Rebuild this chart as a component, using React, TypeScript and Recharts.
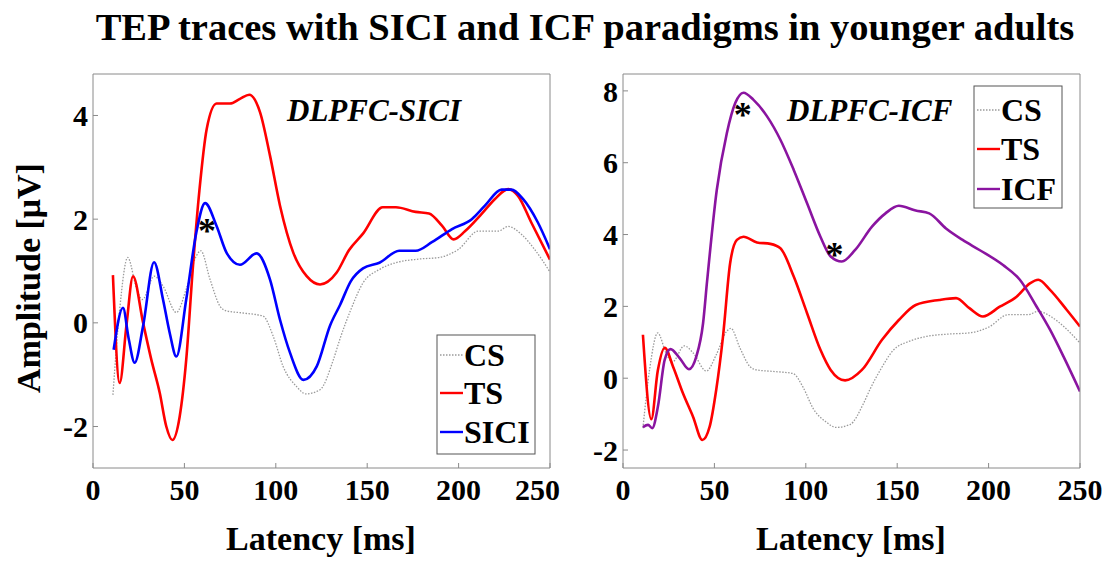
import { LineChart, Line, XAxis, YAxis, ReferenceDot } from 'recharts'

// CS trace (same in both panels)
const csLatency = [10.9, 14.6, 19, 23.7, 27, 33.5, 38.3, 45.6, 51, 56.5, 59, 64, 69.5, 73, 82, 93, 98.6, 104, 111.4, 116.5, 124.2, 131.5, 135.2, 141, 147.7, 156.7, 165.7, 178.3, 189.2, 200, 210.8, 221.7, 227.1, 234.3, 241.5, 250]
const csAmp = [-1.39, 0.26, 1.26, 0.68, 0.45, 0.9, 0.71, 0.2, 0.65, 1.29, 1.39, 0.84, 0.32, 0.23, 0.19, 0.13, -0.26, -0.84, -1.23, -1.37, -1.29, -0.71, -0.3, 0.25, 0.77, 1.03, 1.16, 1.23, 1.26, 1.42, 1.77, 1.77, 1.86, 1.71, 1.42, 0.98]

// DLPFC-SICI panel
const tsSiciLatency = [10.9, 14.6, 18.3, 21.9, 27.4, 31.9, 36.5, 40.1, 43.4, 47.4, 51, 54.7, 58.2, 62.2, 67.6, 74.9, 80.4, 85.5, 91.4, 96.8, 102.3, 109.6, 116.9, 124.2, 133.3, 140, 147.7, 158.5, 165.7, 176.5, 183.8, 191, 197.3, 203.6, 212.6, 219.9, 227.1, 232.5, 239.7, 250]
const tsSiciAmp = [0.92, -1.16, -0.05, 0.9, 0, -0.71, -1.35, -2, -2.26, -1.81, -0.71, 1.1, 2.55, 3.74, 4.23, 4.23, 4.32, 4.4, 4.06, 3.23, 2.26, 1.35, 0.9, 0.74, 0.97, 1.4, 1.72, 2.23, 2.23, 2.14, 2.11, 1.87, 1.61, 1.77, 2.1, 2.39, 2.58, 2.45, 1.94, 1.22]
const siciLatency = [11.3, 16.4, 19.5, 22.8, 27.4, 33.4, 38.3, 42, 45.6, 51, 56.5, 61.3, 67.6, 73.1, 80.4, 89.5, 96.8, 102.3, 107.8, 115.1, 122.4, 129.7, 135.2, 141, 147.7, 156.7, 167.5, 176.5, 185.6, 196.4, 207.2, 214.4, 223.5, 228.9, 235.2, 243.3, 250]
const siciAmp = [-0.52, 0.29, -0.3, -0.77, -0.06, 1.17, 0.45, -0.2, -0.65, 0.45, 1.74, 2.31, 1.87, 1.35, 1.12, 1.34, 0.84, 0.06, -0.58, -1.1, -0.84, -0.05, 0.35, 0.8, 1.05, 1.16, 1.39, 1.39, 1.56, 1.81, 2.0, 2.26, 2.57, 2.57, 2.39, 1.94, 1.42]

// DLPFC-ICF panel
const tsIcfLatency = [10.9, 15.5, 19, 22.8, 27.4, 32.8, 38.3, 43.4, 47.4, 51, 54.7, 58.6, 62.3, 65.9, 73.3, 80.6, 86.1, 93.4, 100.7, 108, 113.6, 121.5, 130.7, 141.7, 150.9, 160.1, 173, 182.2, 189.5, 196.9, 206.1, 215.3, 222.6, 227.2, 233.6, 242.8, 250]
const tsIcfAmp = [1.21, -1.14, 0.2, 0.85, 0.32, -0.42, -1.07, -1.72, -1.35, -0.32, 1.16, 3.2, 3.85, 3.94, 3.78, 3.74, 3.62, 2.83, 1.81, 0.79, 0.23, -0.06, 0.23, 1.07, 1.62, 2.04, 2.18, 2.23, 1.95, 1.72, 1.99, 2.27, 2.64, 2.74, 2.46, 1.9, 1.44]
const icfLatency = [10.9, 13.7, 16, 19.1, 22.8, 26, 31, 36.1, 40.1, 43.8, 46, 51.3, 56.8, 61.4, 65.9, 71.4, 78.8, 86.1, 93.4, 100.7, 108, 113.6, 119.7, 127, 136.2, 143.6, 150.9, 160.1, 167.5, 176.7, 185.8, 195, 207.9, 217.1, 226.3, 233.6, 241, 250]
const icfAmp = [-1.36, -1.3, -1.39, -0.79, 0.51, 0.81, 0.56, 0.25, 0.6, 1.53, 2.7, 5.24, 6.82, 7.66, 7.95, 7.75, 7.29, 6.64, 5.8, 4.87, 3.94, 3.39, 3.25, 3.57, 4.22, 4.59, 4.8, 4.67, 4.59, 4.17, 3.85, 3.57, 3.15, 2.74, 1.99, 1.35, 0.6, -0.37]

const xTicks = [0, 50, 100, 150, 200, 250]
const siciTicks = [-2, 0, 2, 4]
const icfTicks = [-2, 0, 2, 4, 6, 8]

// significance markers [latency, amplitude]
const siciStars = [[62.4, 1.86]]
const icfStars = [[65.5, 7.47], [115.7, 3.57]]

const SERIF = '"Liberation Serif", "DejaVu Serif", serif'
const AXIS = '#8a8a8a'
const RED = '#ff0000'
const BLUE = '#0000ff'
const PURPLE = '#8a14a0'
const GRAY = '#9a9a9a'

const pts = (lat: number[], amp: number[]) => lat.map((t, i) => ({ t, v: amp[i] }))

const tickStyle = { fontFamily: SERIF, fontSize: 30, fontWeight: 700, fill: '#000' }

type Series = { name: string; data: { t: number; v: number }[]; color: string; dotted?: boolean }

function Panel({
  width,
  yWidth,
  rightGap,
  yDomain,
  yTicks,
  series,
  stars,
}: {
  width: number
  yWidth: number
  rightGap: number
  yDomain: [number, number]
  yTicks: number[]
  series: Series[]
  stars: number[][]
}) {
  // top / right axes are 1px wide so recharts still draws them (box + inward ticks)
  return (
    <LineChart width={width} height={561} margin={{ top: 73, right: rightGap - 1, bottom: 0, left: 0 }}>
      <XAxis
        xAxisId="b"
        dataKey="t"
        type="number"
        domain={[0, 250]}
        ticks={xTicks}
        height={93}
        tickSize={-5}
        tickMargin={16}
        stroke={AXIS}
        tick={tickStyle}
        allowDataOverflow
      />
      <XAxis
        xAxisId="top"
        orientation="top"
        dataKey="t"
        type="number"
        domain={[0, 250]}
        ticks={xTicks}
        height={1}
        tickSize={-5}
        tick={false}
        stroke={AXIS}
      />
      <YAxis
        yAxisId="l"
        type="number"
        domain={yDomain}
        ticks={yTicks}
        width={yWidth}
        tickSize={-5}
        tickMargin={10}
        stroke={AXIS}
        tick={tickStyle}
        allowDataOverflow
      />
      <YAxis
        yAxisId="r"
        orientation="right"
        type="number"
        domain={yDomain}
        ticks={yTicks}
        width={1}
        tickSize={-5}
        tick={false}
        stroke={AXIS}
      />
      {series.map((s) => (
        <Line
          key={s.name}
          xAxisId="b"
          yAxisId="l"
          data={s.data}
          dataKey="v"
          type="monotone"
          stroke={s.color}
          strokeWidth={s.dotted ? 1.3 : 2.6}
          strokeDasharray={s.dotted ? '1.5 1.5' : undefined}
          dot={false}
          activeDot={false}
          isAnimationActive={false}
        />
      ))}
      {stars.map(([x, y], i) => (
        <ReferenceDot
          key={i}
          xAxisId="b"
          yAxisId="l"
          x={x}
          y={y}
          shape={(p: any) => (
            <text x={p.cx} y={p.cy + 17} textAnchor="middle" fontFamily={SERIF} fontWeight={700} fontSize={36} fill="#000">
              *
            </text>
          )}
        />
      ))}
    </LineChart>
  )
}

function LegendBox({ x, y, w, h, rows }: { x: number; y: number; w: number; h: number; rows: { label: string; color: string; dotted?: boolean; cy: number }[] }) {
  return (
    <g>
      <rect x={x} y={y} width={w} height={h} fill="#fff" stroke="#555" strokeWidth={1} />
      {rows.map((r) => (
        <g key={r.label}>
          <line
            x1={x + 3}
            x2={x + 26}
            y1={r.cy}
            y2={r.cy}
            stroke={r.color}
            strokeWidth={r.dotted ? 1.3 : 2.4}
            strokeDasharray={r.dotted ? '1.5 1.5' : undefined}
          />
          <text x={x + 27} y={r.cy + 11} fontFamily={SERIF} fontWeight={700} fontSize={32} fill="#000">
            {r.label}
          </text>
        </g>
      ))}
    </g>
  )
}

export default function App() {
  const cs = pts(csLatency, csAmp)
  return (
    <div style={{ position: 'absolute', left: 0, top: 0, width: 1112, height: 561, background: '#fff' }}>
      <div style={{ position: 'absolute', left: 0, top: 0 }}>
        <Panel
          width={560}
          yWidth={93}
          rightGap={10}
          yDomain={[-2.8, 4.8]}
          yTicks={siciTicks}
          series={[
            { name: 'CS', data: cs, color: GRAY, dotted: true },
            { name: 'TS', data: pts(tsSiciLatency, tsSiciAmp), color: RED },
            { name: 'SICI', data: pts(siciLatency, siciAmp), color: BLUE },
          ]}
          stars={siciStars}
        />
      </div>
      <div style={{ position: 'absolute', left: 560, top: 0 }}>
        <Panel
          width={552}
          yWidth={63}
          rightGap={32}
          yDomain={[-2.5, 8.47]}
          yTicks={icfTicks}
          series={[
            { name: 'CS', data: cs, color: GRAY, dotted: true },
            { name: 'TS', data: pts(tsIcfLatency, tsIcfAmp), color: RED },
            { name: 'ICF', data: pts(icfLatency, icfAmp), color: PURPLE },
          ]}
          stars={icfStars}
        />
      </div>
      <svg width={1112} height={561} style={{ position: 'absolute', left: 0, top: 0, pointerEvents: 'none' }}>
        <text x={585} y={40} textAnchor="middle" fontFamily={SERIF} fontWeight={700} fontSize={38.5} fill="#000">
          TEP traces with SICI and ICF paradigms in younger adults
        </text>
        <text x={40} y={278} transform="rotate(-90 40 278)" textAnchor="middle" fontFamily={SERIF} fontWeight={700} fontSize={34} fill="#000">
          Amplitude [μV]
        </text>
        <text x={321} y={550} textAnchor="middle" fontFamily={SERIF} fontWeight={700} fontSize={34} fill="#000">
          Latency [ms]
        </text>
        <text x={851} y={550} textAnchor="middle" fontFamily={SERIF} fontWeight={700} fontSize={34} fill="#000">
          Latency [ms]
        </text>
        <text x={287} y={121} fontFamily={SERIF} fontWeight={700} fontStyle="italic" fontSize={31} fill="#000">
          DLPFC-SICI
        </text>
        <text x={787} y={121} fontFamily={SERIF} fontWeight={700} fontStyle="italic" fontSize={31} fill="#000">
          DLPFC-ICF
        </text>
        <LegendBox
          x={437}
          y={335}
          w={98}
          h={119}
          rows={[
            { label: 'CS', color: GRAY, dotted: true, cy: 355 },
            { label: 'TS', color: RED, cy: 393 },
            { label: 'SICI', color: BLUE, cy: 432 },
          ]}
        />
        <LegendBox
          x={974}
          y={86}
          w={88}
          h={122}
          rows={[
            { label: 'CS', color: GRAY, dotted: true, cy: 110 },
            { label: 'TS', color: RED, cy: 149 },
            { label: 'ICF', color: PURPLE, cy: 189 },
          ]}
        />
      </svg>
    </div>
  )
}
